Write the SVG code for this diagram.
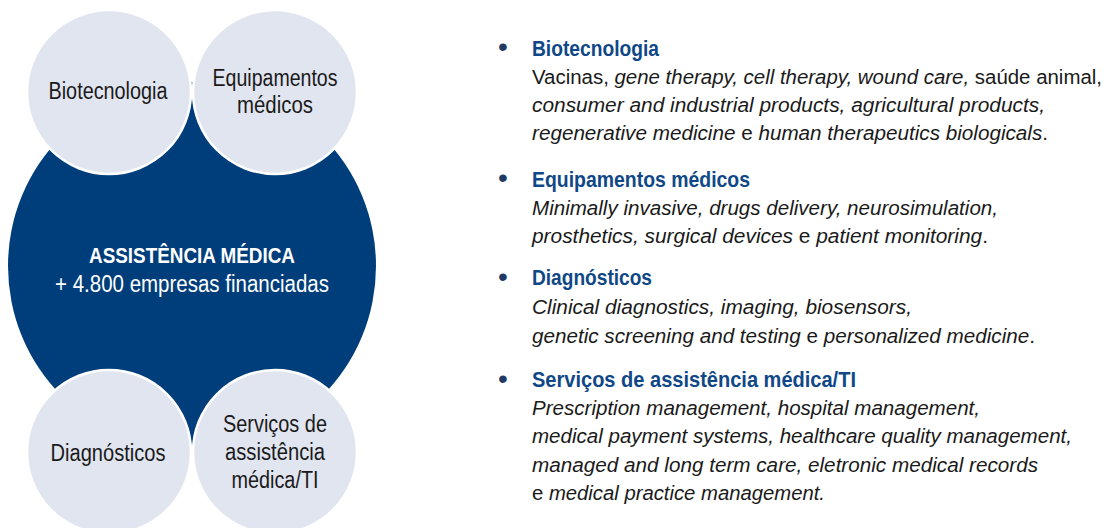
<svg xmlns="http://www.w3.org/2000/svg" width="1106" height="528" viewBox="0 0 1106 528">
<style>
text{font-family:"Liberation Sans Narrow","Liberation Sans",Arial,sans-serif;}
.bg{fill:#ffffff;}
.big{fill:#003e7b;}
.small{fill:#e1e5f0;stroke:#ffffff;stroke-width:2.5;}
.lbl{font-size:23px;fill:#1a1a1a;text-anchor:middle;}
.title{font-size:21.5px;font-weight:bold;fill:#ffffff;text-anchor:middle;}
.sub{font-size:23px;fill:#ffffff;text-anchor:middle;}
.head{font-size:21.5px;font-weight:bold;fill:#104887;}
.bul{font-size:28px;fill:#1f3a64;text-anchor:middle;}
.body{font-size:19.5px;fill:#1a1a1a;}
.i{font-style:italic;}
</style>
<rect class="bg" x="0" y="0" width="1106" height="528"/>
<g id="node-center">
<circle class="big" cx="192" cy="266" r="184"/>
<text class="title" x="192" y="263" textLength="206" lengthAdjust="spacingAndGlyphs">ASSISTÊNCIA MÉDICA</text>
<text class="sub" x="192" y="292" textLength="274" lengthAdjust="spacingAndGlyphs">+ 4.800 empresas financiadas</text>
</g>
<g id="node-biotecnologia">
<circle class="small" cx="109" cy="92" r="82"/>
<text class="lbl" x="108" y="99" textLength="119" lengthAdjust="spacingAndGlyphs">Biotecnologia</text>
</g>
<g id="node-equipamentos">
<circle class="small" cx="275" cy="92" r="82"/>
<text class="lbl" x="275" y="86" textLength="125" lengthAdjust="spacingAndGlyphs">Equipamentos</text>
<text class="lbl" x="275" y="113" textLength="76" lengthAdjust="spacingAndGlyphs">médicos</text>
</g>
<g id="node-diagnosticos">
<circle class="small" cx="109" cy="452" r="82"/>
<text class="lbl" x="108" y="461" textLength="115" lengthAdjust="spacingAndGlyphs">Diagnósticos</text>
</g>
<g id="node-servicos">
<circle class="small" cx="275" cy="452" r="82"/>
<text class="lbl" x="275" y="432" textLength="104" lengthAdjust="spacingAndGlyphs">Serviços de</text>
<text class="lbl" x="275" y="460" textLength="100" lengthAdjust="spacingAndGlyphs">assistência</text>
<text class="lbl" x="275" y="488" textLength="87" lengthAdjust="spacingAndGlyphs">médica/TI</text>
</g>
<g id="connectors"></g>
<g id="list-biotecnologia">
<text class="bul" x="503" y="56">•</text>
<text class="head" x="532" y="56" textLength="127" lengthAdjust="spacingAndGlyphs">Biotecnologia</text>
<text class="body" x="532" y="84" textLength="570" lengthAdjust="spacingAndGlyphs">Vacinas, <tspan class="i">gene therapy, cell therapy, wound care,</tspan> saúde animal,</text>
<text class="body i" x="532" y="112" textLength="513" lengthAdjust="spacingAndGlyphs">consumer and industrial products, agricultural products,</text>
<text class="body" x="532" y="140" textLength="516" lengthAdjust="spacingAndGlyphs"><tspan class="i">regenerative medicine</tspan> e <tspan class="i">human therapeutics biologicals</tspan>.</text>
</g>
<g id="list-equipamentos">
<text class="bul" x="503" y="187">•</text>
<text class="head" x="532" y="187" textLength="218" lengthAdjust="spacingAndGlyphs">Equipamentos médicos</text>
<text class="body i" x="532" y="215" textLength="466" lengthAdjust="spacingAndGlyphs">Minimally invasive, drugs delivery, neurosimulation,</text>
<text class="body" x="532" y="243" textLength="456" lengthAdjust="spacingAndGlyphs"><tspan class="i">prosthetics, surgical devices</tspan> e <tspan class="i">patient monitoring</tspan>.</text>
</g>
<g id="list-diagnosticos">
<text class="bul" x="503" y="286">•</text>
<text class="head" x="532" y="285" textLength="120" lengthAdjust="spacingAndGlyphs">Diagnósticos</text>
<text class="body i" x="532" y="314" textLength="380" lengthAdjust="spacingAndGlyphs">Clinical diagnostics, imaging, biosensors,</text>
<text class="body" x="532" y="343" textLength="503" lengthAdjust="spacingAndGlyphs"><tspan class="i">genetic screening and testing</tspan> e <tspan class="i">personalized medicine</tspan>.</text>
</g>
<g id="list-servicos">
<text class="bul" x="503" y="388">•</text>
<text class="head" x="532" y="387" textLength="324" lengthAdjust="spacingAndGlyphs">Serviços de assistência médica/TI</text>
<text class="body i" x="532" y="415" textLength="448" lengthAdjust="spacingAndGlyphs">Prescription management, hospital management,</text>
<text class="body i" x="532" y="443" textLength="540" lengthAdjust="spacingAndGlyphs">medical payment systems, healthcare quality management,</text>
<text class="body i" x="532" y="472" textLength="506" lengthAdjust="spacingAndGlyphs">managed and long term care, eletronic medical records</text>
<text class="body" x="532" y="500" textLength="293" lengthAdjust="spacingAndGlyphs">e <tspan class="i">medical practice management.</tspan></text>
</g>
</svg>
